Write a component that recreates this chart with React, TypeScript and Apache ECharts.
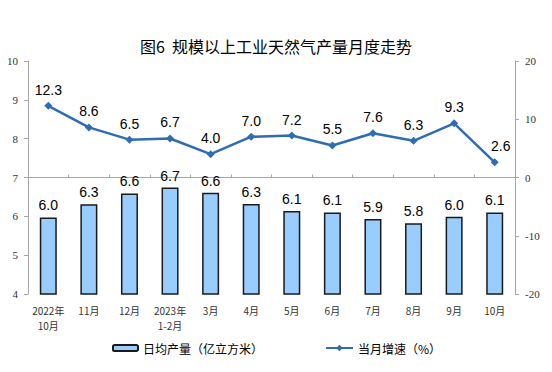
import React, { useEffect, useRef } from "react";
import * as echarts from "echarts";

const categories = ["2022年\n10月", "11月", "12月", "2023年\n1-2月", "3月", "4月", "5月", "6月", "7月", "8月", "9月", "10月"];
const dailyOutput = [5.97, 6.31, 6.59, 6.74, 6.61, 6.32, 6.14, 6.1, 5.93, 5.82, 5.99, 6.1];
const growth = [12.3, 8.6, 6.5, 6.7, 4.0, 7.0, 7.2, 5.5, 7.6, 6.3, 9.3, 2.6];
const leftTicks = { min: 4, max: 10, interval: 1 };
const rightTicks = { min: -20, max: 20, interval: 10 };
const title = "图6  规模以上工业天然气产量月度走势";
const barName = "日均产量（亿立方米）";
const lineName = "当月增速（%）";

export default function App() {
  const ref = useRef<HTMLDivElement>(null);
  useEffect(() => {
    const chart = echarts.init(ref.current!, null, { renderer: "svg" });
    const axisLine = { show: true, lineStyle: { color: "#a6a6a6", width: 1 } };
    const lineData = growth.map((v, i) =>
      i === growth.length - 1 ? { value: v, label: { offset: [6, 0] } } : v
    );
    chart.setOption({
      animation: false,
      backgroundColor: "#fff",
      title: {
        text: title,
        left: "center",
        top: 33,
        textStyle: { fontFamily: "Noto Sans CJK SC", fontSize: 16, fontWeight: "normal", color: "#000" },
      },
      legend: [
        {
          data: [barName],
          left: 107,
          top: 337,
          itemWidth: 25,
          itemHeight: 6,
          itemGap: 4,
          textStyle: { fontFamily: "Noto Sans CJK SC", fontSize: 12, color: "#000" },
        },
        {
          data: [lineName],
          left: 320,
          top: 337,
          itemWidth: 27,
          itemHeight: 8,
          textStyle: { fontFamily: "Noto Sans CJK SC", fontSize: 12, color: "#000" },
        },
      ],
      grid: { left: 28, right: 37, top: 61, bottom: 78, containLabel: false },
      xAxis: {
        type: "category",
        data: categories,
        axisLine,
        axisTick: { show: true, inside: true, length: 3, alignWithLabel: false, lineStyle: { color: "#a6a6a6" } },
        axisLabel: {
          interval: 0,
          margin: 9,
          fontFamily: "Noto Sans CJK SC",
          fontSize: 10,
          lineHeight: 15,
          color: "#333",
        },
      },
      yAxis: [
        {
          type: "value",
          ...leftTicks,
          axisLine,
          axisTick: { show: true, length: 4, lineStyle: { color: "#a6a6a6" } },
          splitLine: { show: false },
          axisLabel: { fontFamily: "Liberation Serif", fontSize: 11, color: "#333", margin: 10 },
        },
        {
          type: "value",
          ...rightTicks,
          position: "right",
          axisLine,
          axisTick: { show: true, length: 4, lineStyle: { color: "#a6a6a6" } },
          splitLine: { show: false },
          axisLabel: { fontFamily: "Liberation Serif", fontSize: 11, color: "#333", margin: 10 },
        },
      ],
      series: [
        {
          name: barName,
          type: "bar",
          data: dailyOutput,
          barWidth: 17,
          itemStyle: { color: "#99ccff", borderColor: "#1a1a1a", borderWidth: 1.5 },
          label: {
            show: true,
            position: "top",
            distance: 5,
            formatter: (p: any) => p.value.toFixed(1),
            fontFamily: "Liberation Sans",
            fontSize: 14,
            color: "#000",
          },
        },
        {
          name: lineName,
          type: "line",
          yAxisIndex: 1,
          data: lineData,
          symbol: "diamond",
          symbolSize: 8,
          lineStyle: { color: "#2e6db4", width: 2.5 },
          itemStyle: { color: "#2e6db4" },
          label: {
            show: true,
            position: "top",
            distance: 5,
            formatter: (p: any) => Number(p.value).toFixed(1),
            fontFamily: "Liberation Sans",
            fontSize: 14,
            color: "#000",
          },
        },
      ],
    });
    return () => chart.dispose();
  }, []);
  return <div ref={ref} style={{ width: 552, height: 372, margin: -8 }} />;
}
